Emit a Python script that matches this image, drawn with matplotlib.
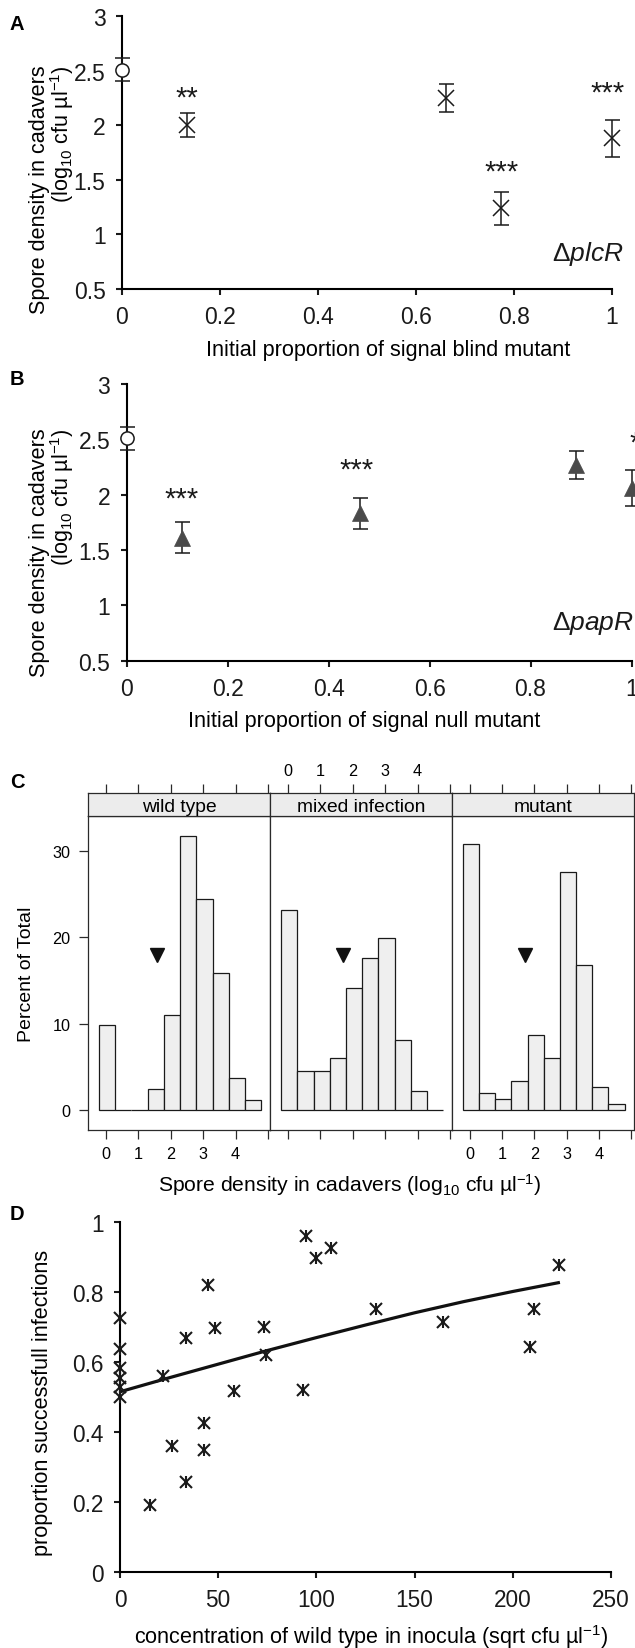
import matplotlib
matplotlib.use('Agg')
import matplotlib.pyplot as plt
import matplotlib.transforms as mtransforms

plt.rcParams['font.family'] = ['Liberation Sans', 'DejaVu Sans']
plt.rcParams['mathtext.fontset'] = 'custom'
plt.rcParams['mathtext.rm'] = 'Liberation Sans'
plt.rcParams['mathtext.it'] = 'Liberation Sans:italic'
plt.rcParams['mathtext.bf'] = 'Liberation Sans:bold'
plt.rcParams['mathtext.default'] = 'regular'

# ---------------- data ----------------
# Panel A: signal blind mutant (delta plcR)
a_ctrl_x = [0.0]
a_ctrl_y = [2.51]
a_ctrl_err = [0.105]
a_x = [0.133, 0.661, 0.773, 1.0]
a_y = [2.00, 2.25, 1.24, 1.88]
a_err = [0.11, 0.125, 0.15, 0.17]
a_sig = ['**', '', '***', '***']

# Panel B: signal null mutant (delta papR)
b_ctrl_x = [0.0]
b_ctrl_y = [2.51]
b_ctrl_err = [0.105]
b_x = [0.109, 0.463, 0.891, 1.0]
b_y = [1.61, 1.83, 2.27, 2.06]
b_err = [0.14, 0.14, 0.126, 0.165]
b_sig = ['***', '***', '', '***']

# Panel C: histograms (percent of total)
c_panels = ['wild type', 'mixed infection', 'mutant']
c_bin_left = [-0.21, 0.29, 0.79, 1.29, 1.79, 2.29, 2.79, 3.29, 3.79, 4.29]
c_bin_width = 0.5
c_wild = [9.8, 0.0, 0.0, 2.4, 11.0, 31.7, 24.4, 15.9, 3.7, 1.2]
c_mixed = [23.1, 4.5, 4.5, 6.0, 14.1, 17.6, 19.9, 8.1, 2.2, 0.0]
c_mutant = [30.8, 2.0, 1.3, 3.4, 8.7, 6.0, 27.6, 16.8, 2.7, 0.7]
c_marker_x = [1.57, 1.69, 1.71]
c_marker_y = [17.9, 17.9, 17.9]
c_xticks = [0, 1, 2, 3, 4, 5]
c_xticklabels = ['0', '1', '2', '3', '4', '']
c_yticks = [0, 10, 20, 30]

# Panel D: proportion of successful infections
d_x = [0, 0, 0, 0, 0, 0, 15.3, 21.7, 26.5, 33.5, 33.5, 42.6, 42.6, 45.0,
       48.5, 58.2, 73.5, 74.3, 93.0, 94.7, 100.0, 107.5, 130.3, 164.5,
       208.8, 211.0, 223.6]
d_y = [0.725, 0.638, 0.583, 0.553, 0.529, 0.500, 0.191, 0.560, 0.361, 0.668,
       0.258, 0.427, 0.348, 0.821, 0.697, 0.518, 0.701, 0.621, 0.520, 0.960,
       0.897, 0.927, 0.751, 0.716, 0.644, 0.751, 0.879]
d_fit_x = [0, 25, 50, 75, 100, 125, 150, 175, 200, 224]
d_fit_y = [0.515, 0.555, 0.594, 0.633, 0.670, 0.706, 0.741, 0.773, 0.802, 0.828]

ab_xticks = [0, 0.2, 0.4, 0.6, 0.8, 1.0]
ab_xticklabels = ['0', '0.2', '0.4', '0.6', '0.8', '1']
ab_yticks = [0.5, 1.0, 1.5, 2.0, 2.5, 3.0]
ab_yticklabels = ['0.5', '1', '1.5', '2', '2.5', '3']
d_xticks = [0, 50, 100, 150, 200, 250]
d_yticks = [0, 0.2, 0.4, 0.6, 0.8, 1.0]
d_yticklabels = ['0', '0.2', '0.4', '0.6', '0.8', '1']

# ---------------- layout helpers ----------------
W, H = 635, 1649
fig = plt.figure(figsize=(W / 100, H / 100), dpi=100)


def add_ax(l, t, r, b):
    return fig.add_axes([l / W, 1 - b / H, (r - l) / W, (b - t) / H])


def ftext(x, y, s, **kw):
    return fig.text(x / W, 1 - y / H, s, **kw)


LABEL_FS = 15.6
TICK_FS = 16.5
LETTER_FS = 14.5


def style_xy(ax):
    for s in ['top', 'right']:
        ax.spines[s].set_visible(False)
    for s in ['left', 'bottom']:
        ax.spines[s].set_linewidth(1.5)
    ax.tick_params(direction='out', length=4.3, width=1.5,
                   labelsize=TICK_FS, pad=7.5, colors='#1a1a1a')
    ax.patch.set_alpha(0)


def noclip(container):
    for art in container.get_children():
        art.set_clip_on(False)


def sig_text(ax, x, y, s, ha='center'):
    # y is the visual centre of the asterisks -> shift baseline down
    tr = mtransforms.offset_copy(ax.transData, fig=fig, x=0, y=-17.5, units='dots')
    ax.text(x, y, s, transform=tr, ha=ha, va='baseline', fontsize=21,
            clip_on=False, color='#1a1a1a')


# ---------------- Panel A ----------------
axA = add_ax(122, 17.3, 612, 290)
style_xy(axA)
axA.set_xlim(0, 1)
axA.set_ylim(0.5, 3)
axA.set_xticks(ab_xticks)
axA.set_xticklabels(ab_xticklabels)
axA.set_yticks(ab_yticks)
axA.set_yticklabels(ab_yticklabels)
e = axA.errorbar(a_x, a_y, yerr=a_err, fmt='x', color='#1a1a1a', ms=11, mew=1.1,
                 ecolor='#1a1a1a', elinewidth=1.1, capsize=5.4, capthick=1.1, zorder=3)
noclip(e)
e = axA.errorbar(a_ctrl_x, a_ctrl_y, yerr=a_ctrl_err, fmt='o', mfc='white', mec='#1a1a1a',
                 ms=9.5, mew=1.1, ecolor='#1a1a1a', elinewidth=1.1, capsize=5.4,
                 capthick=1.1, zorder=4)
noclip(e)
a_sig_pos = [(0.133, 2.34), None, (0.775, 1.66), (0.99, 2.39)]
for s, p in zip(a_sig, a_sig_pos):
    if s and p:
        sig_text(axA, p[0], p[1], s)
axA.text(1.023, 0.762, 'Δ$\\mathit{plcR}$', ha='right', va='baseline', fontsize=19,
         clip_on=False, color='#1a1a1a')
ftext(39.5, 65, 'Spore density in cadavers', rotation=90, ha='center', va='top',
      fontsize=LABEL_FS)
ftext(62.5, 65, '(log$_{10}$ cfu µl$^{-1}$)', rotation=90, ha='center', va='top',
      fontsize=LABEL_FS)
ftext(388, 355.7, 'Initial proportion of signal blind mutant', ha='center',
      va='baseline', fontsize=LABEL_FS)
ftext(10, 30, 'A', fontweight='bold', fontsize=LETTER_FS, ha='left', va='baseline')

# ---------------- Panel B ----------------
axB = add_ax(126.7, 385, 631.5, 661.7)
style_xy(axB)
axB.set_xlim(0, 1)
axB.set_ylim(0.5, 3)
axB.set_xticks(ab_xticks)
axB.set_xticklabels(ab_xticklabels)
axB.set_yticks(ab_yticks)
axB.set_yticklabels(ab_yticklabels)
e = axB.errorbar(b_x, b_y, yerr=b_err, fmt='none', ecolor='#1a1a1a', elinewidth=1.1,
                 capsize=5.4, capthick=1.1, zorder=2)
noclip(e)
axB.plot(b_x, b_y, linestyle='none', marker='^', ms=11.5, mfc='#4a4a4a', mec='#4a4a4a',
         mew=0.5, zorder=3, clip_on=False)
e = axB.errorbar(b_ctrl_x, b_ctrl_y, yerr=b_ctrl_err, fmt='o', mfc='white', mec='#1a1a1a',
                 ms=9.5, mew=1.1, ecolor='#1a1a1a', elinewidth=1.1, capsize=5.4,
                 capthick=1.1, zorder=4)
noclip(e)
b_sig_pos = [(0.109, 2.05, 'center'), (0.455, 2.31, 'center'), None, (0.995, 2.56, 'left')]
for s, p in zip(b_sig, b_sig_pos):
    if s and p:
        sig_text(axB, p[0], p[1], s, ha=p[2])
axB.text(0.843, 0.786, 'Δ$\\mathit{papR}$', ha='left', va='baseline', fontsize=19,
         clip_on=False, color='#1a1a1a')
ftext(39.5, 428.3, 'Spore density in cadavers', rotation=90, ha='center', va='top',
      fontsize=LABEL_FS)
ftext(62.5, 428.3, '(log$_{10}$ cfu µl$^{-1}$)', rotation=90, ha='center', va='top',
      fontsize=LABEL_FS)
ftext(364, 727.3, 'Initial proportion of signal null mutant', ha='center',
      va='baseline', fontsize=LABEL_FS)
ftext(10, 385, 'B', fontweight='bold', fontsize=LETTER_FS, ha='left', va='baseline')

# ---------------- Panel C ----------------
c_lefts = [88.3, 270.4, 452.2]
c_rights = [270.4, 452.2, 633.6]
strip_top, strip_bot, pan_bot = 794, 817.3, 1130.7
c_data = [c_wild, c_mixed, c_mutant]
C_TICK_FS = 11.7
border_c = '#2a2a2a'
for i in range(3):
    ax = add_ax(c_lefts[i], strip_bot, c_rights[i], pan_bot)
    ax.bar(c_bin_left, c_data[i], width=c_bin_width, align='edge', color='#efefef',
           edgecolor='#1a1a1a', linewidth=0.9, zorder=2)
    ax.plot([c_marker_x[i]], [c_marker_y[i]], linestyle='none', marker='v', ms=10.5,
            color='#111111', zorder=3)
    ax.set_xlim(-0.54, 5.07)
    ax.set_ylim(-2.28, 34.0)
    for s in ax.spines.values():
        s.set_linewidth(0.9)
        s.set_color(border_c)
    ax.set_xticks(c_xticks)
    ax.tick_params(axis='x', direction='out', length=6.7, width=0.9, color=border_c,
                   labelsize=C_TICK_FS, pad=4.7)
    if i == 1:
        ax.set_xticklabels([])
    else:
        ax.set_xticklabels(c_xticklabels)
    if i == 0:
        ax.set_yticks(c_yticks)
        ax.tick_params(axis='y', direction='out', length=6.7, width=0.9, color=border_c,
                       labelsize=C_TICK_FS, pad=6.0)
    elif i == 2:
        ax.set_yticks(c_yticks)
        ax.yaxis.tick_right()
        ax.set_yticklabels([])
        ax.tick_params(axis='y', direction='out', length=6.7, width=0.9, color=border_c)
    else:
        ax.set_yticks([])
    sax = add_ax(c_lefts[i], strip_top, c_rights[i], strip_bot)
    sax.set_facecolor('#ececec')
    sax.set_xlim(-0.54, 5.07)
    sax.set_ylim(0, 1)
    sax.set_yticks([])
    sax.set_xticks(c_xticks)
    sax.xaxis.tick_top()
    sax.tick_params(axis='x', direction='out', length=6.7, width=0.9, color=border_c,
                    labelsize=C_TICK_FS, pad=4.2)
    if i == 1:
        sax.set_xticklabels(c_xticklabels)
    else:
        sax.set_xticklabels([])
    for s in sax.spines.values():
        s.set_linewidth(0.9)
        s.set_color(border_c)
    sax.text(0.5, 0.227, c_panels[i], transform=sax.transAxes, ha='center',
             va='baseline', fontsize=13.9)

ftext(27, 974, 'Percent of Total', rotation=90, ha='center', va='center', fontsize=14)
ftext(350, 1192, 'Spore density in cadavers (log$_{10}$ cfu µl$^{-1}$)', ha='center',
      va='baseline', fontsize=15.2)
ftext(10, 788, 'C', fontweight='bold', fontsize=LETTER_FS, ha='left', va='baseline')

# ---------------- Panel D ----------------
axD = add_ax(120, 1223.3, 611, 1572.7)
style_xy(axD)
axD.set_xlim(0, 250)
axD.set_ylim(0, 1)
axD.set_xticks(d_xticks)
axD.set_xticklabels([str(v) for v in d_xticks])
axD.set_yticks(d_yticks)
axD.set_yticklabels(d_yticklabels)
axD.tick_params(labelsize=16.3)
axD.plot(d_fit_x, d_fit_y, color='#111111', lw=2.3, zorder=2, solid_capstyle='butt')
axD.plot(d_x, d_y, linestyle='none', marker='x', ms=8.6, mew=1.5, color='#1a1a1a',
         zorder=3, clip_on=False)
axD.plot(d_x, d_y, linestyle='none', marker='|', ms=8.6, mew=1.5, color='#1a1a1a',
         zorder=3, clip_on=False)
ftext(42.5, 1403, 'proportion successfull infections', rotation=90, ha='center',
      va='center', fontsize=LABEL_FS)
ftext(371.5, 1644, 'concentration of wild type in inocula (sqrt cfu µl$^{-1}$)',
      ha='center', va='baseline', fontsize=LABEL_FS)
ftext(10, 1220, 'D', fontweight='bold', fontsize=LETTER_FS, ha='left', va='baseline')

fig.savefig('out.png', dpi=100)
